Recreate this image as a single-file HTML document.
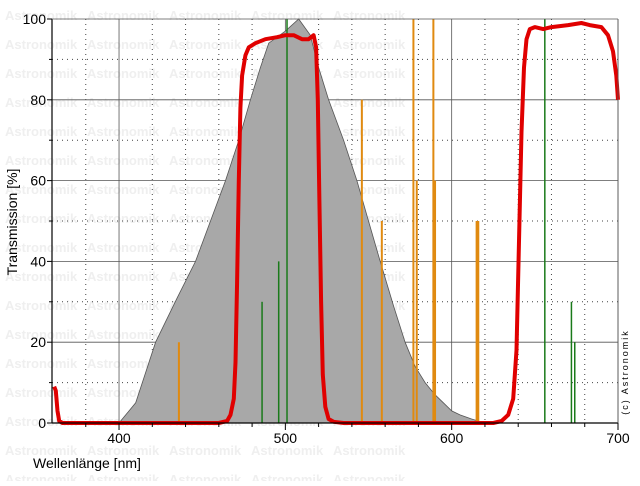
<!DOCTYPE html>
<html><head><meta charset="utf-8"><style>
body{margin:0;background:#fff;}
svg text{font-family:"Liberation Sans",sans-serif;}
</style></head><body>
<svg id="chart" width="640" height="481" viewBox="0 0 640 481" xmlns="http://www.w3.org/2000/svg">
<g id="wm"></g>
<g id="grid"></g>
<path id="lum" fill="#a8a8a8" stroke="#555" stroke-width="0.8"/>
<g id="lines"></g>
<path id="filter" fill="none" stroke="#e00000" stroke-width="4" stroke-linejoin="round"/>
<g id="axes"></g>
<text x="33" y="468" font-size="14">Wellenlänge [nm]</text>
<text transform="translate(17,222) rotate(-90)" text-anchor="middle" font-size="14">Transmission [%]</text>
<text transform="translate(628,372) rotate(-90)" text-anchor="middle" font-size="9" letter-spacing="2">(c) Astronomik</text>
</svg>
<script>
const lumX=[400,410,422,435,446,455,464,472,479,485,490,500,508,515,520,526,535,543,550,557,565,572,578,584,590,595,600,605,612,620];
const lumY=[0,5,20,31,40,50,60,70,80,88,94,97,100,96,88,80,70,60,50,40,29,20,14,10,7,5,3,2,1,0];
const filtX=[361,362,363,364,366,380,440,460,465,467,469,470,471,472,473,474,476,478,482,488,495,500,505,510,514,517,518.5,519.5,520.5,521.5,522.5,524,526,529,535,560,600,625,630,634,637,639,640.5,642,643.5,645,647,650,655,660,670,678,683,690,694,697,699,700];
const filtY=[9,8,3,0.5,0,0,0,0,0.5,2,6,15,35,60,78,86,91,93,94,95,95.5,96,96,95,95,96,93,80,55,30,12,4,1,0.3,0,0,0,0,0.5,2,6,18,45,72,88,95,97.5,98,97.5,98,98.5,99,98.5,98,96,92,86,80];
const lineNm=[436,546,558,577,579,589,590,615,616,486,496,501,656,672,674];
const lineVal=[20,80,50,100,60,100,60,50,50,30,40,100,100,30,20];
const lineType=["o","o","o","o","o","o","o","o","o","g","g","g","g","g","g"];
const xTicks=[400,500,600,700];
const yTicks=[0,20,40,60,80,100];
const L=52,R=618,T=19,B=423,X0=359.7,X1=700;
const sx=v=>L+(v-X0)/(X1-X0)*(R-L);
const sy=v=>B-v/100*(B-T);
const NS="http://www.w3.org/2000/svg";
function mk(tag,at,parent){const e=document.createElementNS(NS,tag);for(const k in at)e.setAttribute(k,at[k]);parent.appendChild(e);return e;}
const wm=document.getElementById('wm');
for(let r=0;r<17;r++)for(let c=0;c<5;c++){const t=mk('text',{x:5+c*82,y:20+r*29,'font-size':13,'font-weight':'bold',fill:'#efefef'},wm);t.textContent='Astronomik';

}
const g=document.getElementById('grid');
for(let v=380;v<=700;v+=20){const solid=v%100===0;const l=mk('line',{x1:sx(v),x2:sx(v),y1:T,y2:B,stroke:solid?'#555':'#444','stroke-width':solid?0.8:1,'stroke-dasharray':solid?'':'1,4'},g);

}
for(let v=10;v<100;v+=10){const solid=v%20===0;const l=mk('line',{x1:L,x2:R,y1:sy(v),y2:sy(v),stroke:solid?'#555':'#444','stroke-width':solid?0.8:1,'stroke-dasharray':solid?'':'1,4'},g);

}
let d='M'+sx(lumX[0])+','+sy(0);
lumX.forEach((x,i)=>{d+=' L'+sx(x).toFixed(1)+','+sy(lumY[i]).toFixed(1);});
document.getElementById('lum').setAttribute('d',d+'Z');
const lg=document.getElementById('lines');
lineNm.forEach((n,i)=>{const o=lineType[i]==='o';const l=mk('line',{x1:sx(n),x2:sx(n),y1:sy(0),y2:sy(lineVal[i]),stroke:o?'#e08a10':'#1a7a1a','stroke-width':o?2:1.5},lg);

});
let f='';filtX.forEach((x,i)=>{f+=(i?' L':'M')+sx(x).toFixed(1)+','+sy(filtY[i]).toFixed(1);});
document.getElementById('filter').setAttribute('d',f);
const ax=document.getElementById('axes');
mk('line',{x1:L,x2:L,y1:T,y2:B,stroke:'#000','stroke-width':1.2},ax);
mk('line',{x1:L,x2:R,y1:B,y2:B,stroke:'#000','stroke-width':1.2},ax);
mk('line',{x1:R,x2:R,y1:T,y2:B,stroke:'#555','stroke-width':0.8},ax);
mk('line',{x1:L,x2:R,y1:T,y2:T,stroke:'#555','stroke-width':0.8},ax);
for(let v=0;v<=100;v+=10){const l=mk('line',{x1:L-(v%20?3:5),x2:L,y1:sy(v),y2:sy(v),stroke:'#000'},ax);

}
for(let v=380;v<=700;v+=20){const l=mk('line',{x1:sx(v),x2:sx(v),y1:B,y2:B+(v%100?4:7),stroke:'#000'},ax);

}
yTicks.forEach(v=>{const t=mk('text',{x:L-6,y:sy(v)+5,'text-anchor':'end','font-size':14},ax);t.textContent=v;

});
xTicks.forEach(v=>{const t=mk('text',{x:sx(v),y:B+20,'text-anchor':'middle','font-size':14},ax);t.textContent=v;

});
</script>
</body></html>
